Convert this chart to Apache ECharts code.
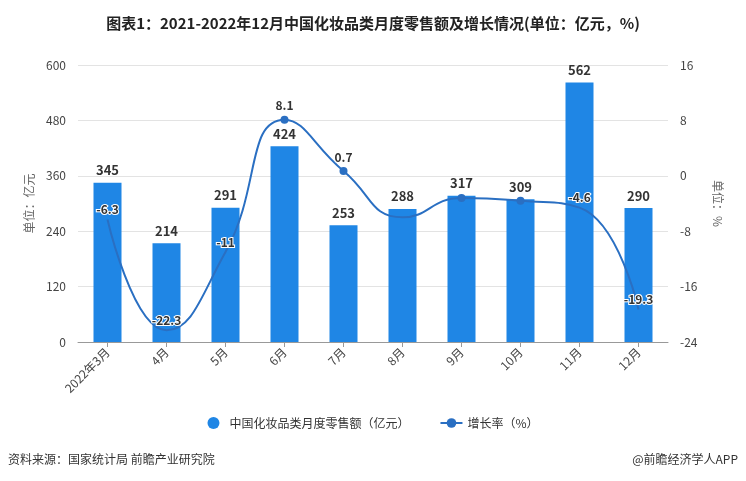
<!DOCTYPE html>
<html><head><meta charset="utf-8">
<script src="https://cdn.jsdelivr.net/npm/echarts@6/dist/echarts.min.js"></script>
<style>html,body{margin:0;padding:0;background:#fff}#c{width:746px;height:481px}</style>
</head><body><div id="c"></div>
<script>
const categories = ['2022年3月','4月','5月','6月','7月','8月','9月','10月','11月','12月'];
const salesValues = [345, 214, 291, 424, 253, 288, 317, 309, 562, 290];
const growthValues = [-6.3, -22.3, -11, 8.1, 0.7, -6.0, -3.2, -3.6, -4.6, -19.3];
const growthLabelShown = [true, true, true, true, true, false, false, false, true, true];
const growthDotShown = [false, false, false, true, true, false, true, true, false, false];
const leftTicks = {min: 0, max: 600, interval: 120};
const rightTicks = {min: -24, max: 16, interval: 8};

const chart = echarts.init(document.getElementById('c'));
const font = '"Microsoft YaHei","Noto Sans CJK SC",sans-serif';
chart.setOption({
  animation: false,
  textStyle: {fontFamily: font},
  title: {
    text: '图表1：2021-2022年12月中国化妆品类月度零售额及增长情况(单位：亿元，%)',
    left: 'center', top: 11,
    textStyle: {fontSize: 15, fontWeight: 'bold', color: '#222', fontFamily: font}
  },
  graphic: [
    {type: 'text', left: 8, top: 453, style: {text: '资料来源：国家统计局 前瞻产业研究院', fontSize: 12, fill: '#333', fontFamily: font}},
    {type: 'text', right: 8, top: 453, style: {text: '@前瞻经济学人APP', fontSize: 12, fill: '#333', fontFamily: font}}
  ],
  legend: {
    bottom: 47, left: 'center', itemGap: 30,
    textStyle: {fontSize: 12, color: '#333'},
    data: [
      {name: '中国化妆品类月度零售额（亿元）', icon: 'circle'},
      {name: '增长率（%）'}
    ],
    itemWidth: 22, itemHeight: 12
  },
  grid: {left: 78, right: 78, top: 65, bottom: 139},
  xAxis: {
    type: 'category', data: categories,
    axisLine: {lineStyle: {color: '#999'}},
    axisTick: {show: true, alignWithLabel: true, lineStyle: {color: '#999'}},
    axisLabel: {rotate: 45, color: '#444', fontSize: 12, interval: 0}
  },
  yAxis: [
    {
      type: 'value', min: leftTicks.min, max: leftTicks.max, interval: leftTicks.interval,
      name: '单位：亿元', nameLocation: 'middle', nameGap: 42, nameRotate: 90,
      nameTextStyle: {color: '#666', fontSize: 12},
      axisLine: {show: false}, axisTick: {show: false},
      axisLabel: {color: '#444', fontSize: 12, margin: 12},
      splitLine: {lineStyle: {color: '#e3e3e3'}}
    },
    {
      type: 'value', min: rightTicks.min, max: rightTicks.max, interval: rightTicks.interval,
      name: '单位：%', nameLocation: 'middle', nameGap: 44, nameRotate: -90,
      nameTextStyle: {color: '#666', fontSize: 12},
      axisLine: {show: false}, axisTick: {show: false},
      axisLabel: {color: '#444', fontSize: 12, margin: 12},
      splitLine: {show: false}
    }
  ],
  series: [
    {
      name: '中国化妆品类月度零售额（亿元）', type: 'bar', data: salesValues,
      barWidth: 28,
      itemStyle: {color: '#1f86e5'},
      label: {show: true, position: 'top', color: '#333', fontWeight: 'bold', fontSize: 13, distance: 6}
    },
    {
      name: '增长率（%）', type: 'line', yAxisIndex: 1, smooth: true,
      data: growthValues.map((v, i) => ({
        value: v,
        symbolSize: growthDotShown[i] ? 8 : 0,
        label: {show: growthLabelShown[i]}
      })),
      symbol: 'circle', symbolSize: 8, showAllSymbol: true,
      lineStyle: {color: '#2a6fc2', width: 2},
      itemStyle: {color: '#2a6fc2'},
      label: {show: true, position: 'top', color: '#333', fontWeight: 'bold', fontSize: 12,
        textBorderColor: '#fff', textBorderWidth: 2, distance: 4},
      z: 5
    }
  ]
});
</script></body></html>
